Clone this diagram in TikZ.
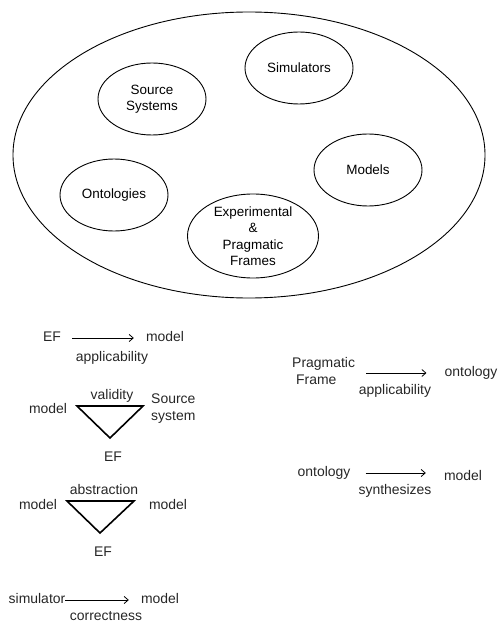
\documentclass[tikz,border=0pt]{standalone}
\usepackage{fontspec}
\setmainfont{Liberation Sans}
\usetikzlibrary{shapes.geometric,arrows.meta}
\begin{document}
\begin{tikzpicture}[x=1bp,y=-1bp,
  every node/.style={font=\fontsize{13.5}{16.5}\selectfont},
  blob/.style={draw,ellipse,line width=0.9bp,inner sep=0,minimum width=108bp,minimum height=72bp,align=center},
  lbl/.style={inner sep=0,text height=10bp,text depth=2.5bp,text=black!85,font=\fontsize{14}{17}\selectfont},
  lbltwo/.style={inner sep=0,align=left,text=black!85,font=\fontsize{14}{17}\selectfont},
  arr/.style={-{Straight Barb[length=4bp,width=7bp]},line width=0.8bp},
  tri/.style={line width=1.6bp,line join=miter}]
\useasboundingbox (0,0) rectangle (498,624);
% top part
\node[draw,ellipse,inner sep=0,minimum width=472bp,minimum height=286bp,line width=0.9bp] (world) at (249,155) {};
\node[blob] (sim) at (299,68) {Simulators};
\node[blob] (src) at (152,99) {Source\\Systems};
\node[blob] (mod) at (368,170) {Models};
\node[blob] (ont) at (114,195) {Ontologies};
\node[blob,minimum width=131bp,minimum height=84bp] (exp) at (253,236) {Experimental\\\&\\Pragmatic\\Frames};
% EF -> model
\node[lbl] (ef1) at (52,338) {EF};
\node[lbl] (m1) at (165,338) {model};
\draw[arr,shorten <=11bp,shorten >=12bp] (ef1.east) -- (m1.west);
\node[lbl] (app1) at (112,358) {applicability};
% validity triangle
\coordinate (t1a) at (77,406);
\coordinate (t1b) at (143,406);
\coordinate (t1c) at (110,438);
\draw[tri] (t1a) -- (t1b) -- (t1c) -- cycle;
\node[lbl] (val) at (112,396) {validity};
\node[lbl] (m2) at (48,410) {model};
\node[lbltwo,anchor=west] (ss) at (151,409) {Source\\system};
\node[lbl] (ef2) at (113,458) {EF};
% abstraction triangle
\coordinate (t2a) at (67,501);
\coordinate (t2b) at (134,501);
\coordinate (t2c) at (100,533);
\draw[tri] (t2a) -- (t2b) -- (t2c) -- cycle;
\node[lbl] (abs) at (104,491) {abstraction};
\node[lbl] (m3) at (38,506) {model};
\node[lbl] (m4) at (168,506) {model};
\node[lbl] (ef3) at (103,553) {EF};
% simulator -> model
\node[lbl] (simu) at (37,600) {simulator};
\node[lbl] (m5) at (160,600) {model};
\draw[arr,shorten >=12bp] (simu.east) -- (m5.west);
\node[lbl] (corr) at (106,617) {correctness};
% Pragmatic Frame -> ontology
\node[lbltwo,anchor=west] (pf) at (292,371) {Pragmatic\\\hspace*{4bp}Frame};
\node[lbl] (on1) at (471,373) {ontology};
\draw[arr,shorten >=18bp] (on1.west -| 366,0) -- (on1.west);
\node[lbl] (app2) at (395,391) {applicability};
% ontology -> model
\node[lbl] (on2) at (324,473) {ontology};
\node[lbl] (m6) at (463,477) {model};
\draw[arr,shorten <=15bp] (on2.east) -- (on2.east -| m6.west) [shorten >=18bp];
\node[lbl] (syn) at (395,491) {synthesizes};
\end{tikzpicture}
\end{document}
